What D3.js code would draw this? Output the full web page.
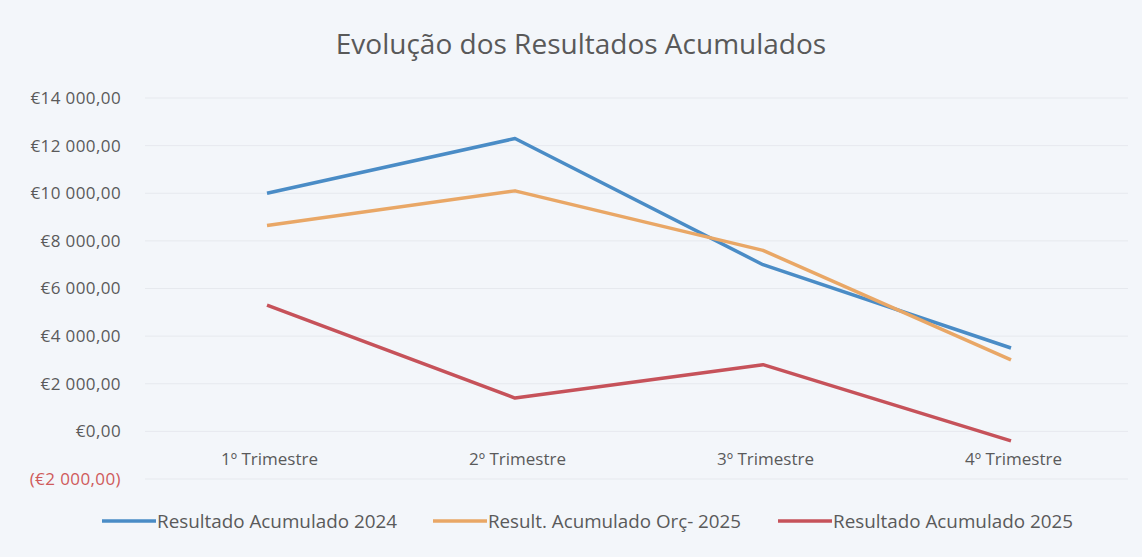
<!DOCTYPE html>
<html>
<head>
<meta charset="utf-8">
<script src="https://cdn.jsdelivr.net/npm/d3@7"></script>
<style>
  body { margin: 0; background: #f3f6fa; }
  svg { display: block; font-family: "Open Sans", sans-serif; }
</style>
</head>
<body>
<div id="chart"></div>
<script>
  "use strict";

  // categories (x axis)
  var quarters = ["1º Trimestre", "2º Trimestre", "3º Trimestre", "4º Trimestre"];

  // series values
  var res2024 = [10000, 12300, 7000, 3500];
  var orc2025 = [8650, 10100, 7600, 3000];
  var res2025 = [5300, 1400, 2800, -400];

  var seriesNames = ["Resultado Acumulado 2024", "Result. Acumulado Orç- 2025", "Resultado Acumulado 2025"];
  var seriesColors = ["#4a8cc6", "#e9a766", "#c6525a"];

  var yTicks = [-2000, 0, 2000, 4000, 6000, 8000, 10000, 12000, 14000];

  var width = 1142, height = 557;

  var svg = d3.select("#chart").append("svg")
    .attr("width", width)
    .attr("height", height);

  svg.append("rect")
    .attr("width", width).attr("height", height)
    .attr("fill", "#f3f6fa");

  // title
  svg.append("text")
    .attr("x", 581).attr("y", 54)
    .attr("text-anchor", "middle")
    .attr("font-size", 28)
    .attr("fill", "#595959")
    .text("Evolução dos Resultados Acumulados");

  var x = d3.scalePoint()
    .domain(quarters)
    .range([267, 1011]);

  var y = d3.scaleLinear()
    .domain([-2000, 14000])
    .range([479, 98]);

  // faint gridlines
  svg.append("g")
    .selectAll("line")
    .data(yTicks)
    .join("line")
    .attr("x1", 145).attr("x2", 1128)
    .attr("y1", function (d) { return y(d); })
    .attr("y2", function (d) { return y(d); })
    .attr("stroke", "#e6e9ee")
    .attr("stroke-width", 1);

  // y axis labels
  var fmt = function (v) {
    var s = "€" + d3.format(",.2f")(Math.abs(v)).replace(/,/g, " ").replace(".", ",");
    return v < 0 ? "(" + s + ")" : s;
  };

  var yAxis = svg.append("g")
    .attr("transform", "translate(121,0)")
    .call(d3.axisLeft(y).tickValues(yTicks).tickSize(0).tickPadding(0).tickFormat(fmt));
  yAxis.select(".domain").remove();
  yAxis.selectAll("text")
    .attr("font-size", 17)
    .attr("letter-spacing", 0.4)
    .attr("font-family", "Open Sans, sans-serif")
    .attr("fill", function (d) { return d < 0 ? "#cf5a5a" : "#5a5a5a"; });

  // x axis labels (sit below the zero line)
  var xAxis = svg.append("g")
    .attr("transform", "translate(0," + (y(0) + 34) + ")")
    .call(d3.axisBottom(x).tickSize(0).tickPadding(0));
  xAxis.select(".domain").remove();
  xAxis.selectAll("text")
    .attr("font-size", 17)
    .attr("font-family", "Open Sans, sans-serif")
    .attr("fill", "#5a5a5a")
    .attr("dy", 0)
    .attr("dx", 2);

  // lines
  var line = d3.line()
    .x(function (d, i) { return x(quarters[i]); })
    .y(function (d) { return y(d); });

  var allSeries = [res2024, orc2025, res2025];

  svg.append("g")
    .selectAll("path")
    .data(allSeries)
    .join("path")
    .attr("d", line)
    .attr("fill", "none")
    .attr("stroke", function (d, i) { return seriesColors[i]; })
    .attr("stroke-width", 3.5)
    .attr("stroke-linejoin", "round");

  // legend
  var legendX = [102, 433, 778];
  var legendW = [240, 253, 240];
  var legend = svg.append("g")
    .selectAll("g")
    .data(seriesNames)
    .join("g")
    .attr("transform", function (d, i) { return "translate(" + legendX[i] + ",521)"; });

  legend.append("line")
    .attr("x1", 0).attr("x2", 54)
    .attr("stroke", function (d, i) { return seriesColors[i]; })
    .attr("stroke-width", 3.5);

  legend.append("text")
    .attr("x", 55).attr("y", 7)
    .attr("font-size", 19)
    .attr("fill", "#5a5a5a")
    .attr("textLength", function (d, i) { return legendW[i]; })
    .attr("lengthAdjust", "spacingAndGlyphs")
    .text(function (d) { return d; });
</script>
</body>
</html>
